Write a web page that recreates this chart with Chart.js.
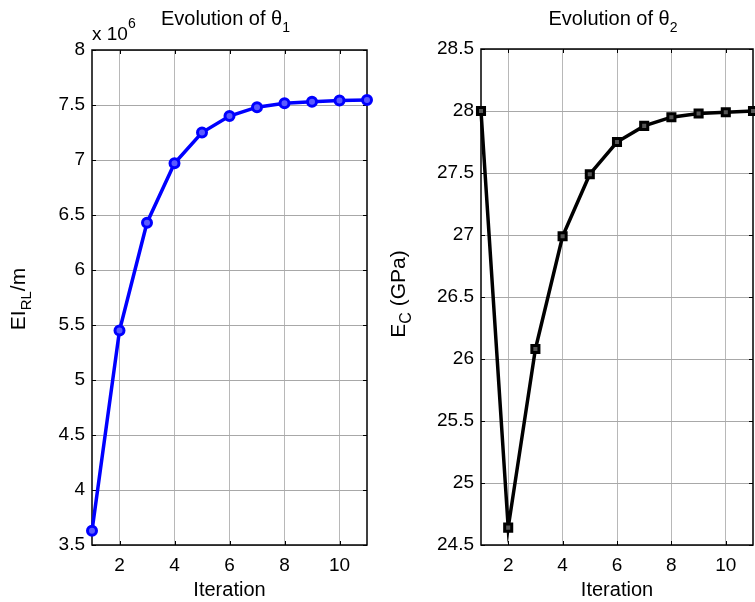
<!DOCTYPE html>
<html><head><meta charset="utf-8">
<script src="https://cdn.jsdelivr.net/npm/chart.js@4"></script>
<style>
html,body{margin:0;padding:0;background:#fff;}
#wrap{position:relative;width:755px;height:602px;overflow:hidden;background:#fff;}
canvas{position:absolute;top:0;}
</style></head><body>
<div id="wrap">
<canvas id="c1" width="380" height="602" style="left:0;width:380px;height:602px"></canvas>
<canvas id="c2" width="375" height="602" style="left:380px;width:375px;height:602px"></canvas>
</div>
<script>
// ---- data ----
const iterations = [1, 2, 3, 4, 5, 6, 7, 8, 9, 10, 11];
const theta1Values = [3.63e6, 5.45e6, 6.43e6, 6.97e6, 7.25e6, 7.40e6, 7.48e6, 7.515e6, 7.53e6, 7.54e6, 7.545e6];
const theta2Values = [28.0, 24.64, 26.08, 26.99, 27.49, 27.75, 27.88, 27.95, 27.98, 27.99, 28.0];
const xTickValues = [2, 4, 6, 8, 10];
const theta1TickLabels = [3.5, 4, 4.5, 5, 5.5, 6, 6.5, 7, 7.5, 8];   // x 10^6
const theta2TickLabels = [24.5, 25, 25.5, 26, 26.5, 27, 27.5, 28, 28.5];

const FONT = "'Liberation Sans', Arial, Helvetica, sans-serif";

function drawRich(ctx, parts, x, y, align) {
  let total = 0;
  parts.forEach(p => { ctx.font = p.size + 'px ' + FONT; p.w = ctx.measureText(p.t).width; total += p.w; });
  let cx = align === 'center' ? x - total / 2 : (align === 'right' ? x - total : x);
  ctx.textAlign = 'left';
  ctx.textBaseline = 'alphabetic';
  parts.forEach(p => {
    ctx.font = p.size + 'px ' + FONT;
    ctx.fillText(p.t, cx, y + (p.dy || 0));
    cx += p.w;
  });
}

function overlay(cfg) {
  return {
    id: 'overlay',
    beforeDatasetsDraw(chart) {
      const ctx = chart.ctx, a = chart.chartArea;
      const xs = chart.scales.x, ys = chart.scales.y;
      ctx.save();
      ctx.strokeStyle = '#000';
      ctx.lineWidth = 1.5;
      ctx.strokeRect(a.left, a.top, a.right - a.left, a.bottom - a.top);
      ctx.lineWidth = 1;
      ctx.beginPath();
      const tl = 4;
      xs.ticks.forEach(t => {
        const px = Math.round(xs.getPixelForValue(t.value)) + 0.5;
        ctx.moveTo(px, a.bottom); ctx.lineTo(px, a.bottom - tl);
        ctx.moveTo(px, a.top); ctx.lineTo(px, a.top + tl);
      });
      ys.ticks.forEach(t => {
        const py = Math.round(ys.getPixelForValue(t.value)) + 0.5;
        ctx.moveTo(a.left, py); ctx.lineTo(a.left + tl, py);
        ctx.moveTo(a.right, py); ctx.lineTo(a.right - tl, py);
      });
      ctx.stroke();
      ctx.restore();
    },
    afterDraw(chart) {
      const ctx = chart.ctx, a = chart.chartArea;
      ctx.save();
      ctx.fillStyle = '#000';
      drawRich(ctx, cfg.title, (a.left + a.right) / 2 - 4, 25, 'center');
      drawRich(ctx, [{ t: 'Iteration', size: 20 }], (a.left + a.right) / 2, 596, 'center');
      if (cfg.multiplier) drawRich(ctx, cfg.multiplier, a.left, 40, 'left');
      ctx.translate(cfg.yLabelX, cfg.yLabelY);
      ctx.rotate(-Math.PI / 2);
      drawRich(ctx, cfg.yLabel, 0, 0, 'center');
      ctx.restore();
    }
  };
}

function makeChart(canvas, cfg) {
  return new Chart(canvas, {
    type: 'line',
    data: {
      datasets: [{
        data: iterations.map((x, i) => ({ x: x, y: cfg.values[i] })),
        borderColor: cfg.color,
        borderWidth: 3.5,
        pointStyle: cfg.pointStyle,
        pointRadius: cfg.radius,
        pointBorderWidth: 3,
        pointBorderColor: cfg.color,
        pointBackgroundColor: cfg.fill,
        tension: 0,
        clip: false
      }]
    },
    options: {
      responsive: false,
      maintainAspectRatio: false,
      animation: false,
      devicePixelRatio: 1,
      events: [],
      layout: { autoPadding: false, padding: { top: cfg.top, right: cfg.right, left: 0, bottom: 0 } },
      plugins: { legend: { display: false }, tooltip: { enabled: false }, title: { display: false } },
      scales: {
        x: {
          type: 'linear', min: 1, max: 11,
          afterBuildTicks: s => { s.ticks = xTickValues.map(v => ({ value: v })); },
          afterFit: s => { s.height = 602 - 545; },
          grid: { color: '#b8b8b8', lineWidth: 1, drawTicks: false },
          border: { display: false },
          ticks: { font: { family: FONT, size: 19 }, color: '#000', padding: 9, maxRotation: 0, autoSkip: false,
                   callback: v => String(v) }
        },
        y: {
          type: 'linear', min: cfg.tickLabels[0] * cfg.mult, max: cfg.tickLabels[cfg.tickLabels.length - 1] * cfg.mult,
          afterBuildTicks: s => { s.ticks = cfg.tickLabels.map(v => ({ value: v * cfg.mult })); },
          afterFit: s => { s.width = cfg.yWidth; },
          grid: { color: '#a8a8a8', lineWidth: 1, drawTicks: false },
          border: { display: false },
          ticks: { font: { family: FONT, size: 19 }, color: '#000', padding: 7, autoSkip: false,
                   callback: v => String(+(v / cfg.mult).toFixed(2)) }
        }
      }
    },
    plugins: [overlay(cfg)]
  });
}

makeChart(document.getElementById('c1'), {
  values: theta1Values, tickLabels: theta1TickLabels, mult: 1e6,
  color: '#0000ff', fill: '#5a5aff', pointStyle: 'circle', radius: 4.5,
  top: 50, right: 13, yWidth: 92,
  title: [{ t: 'Evolution of \u03B8', size: 20 }, { t: '1', size: 14, dy: 7 }],
  multiplier: [{ t: 'x 10', size: 19 }, { t: '6', size: 14, dy: -12 }],
  yLabelX: 25, yLabelY: 299,
  yLabel: [{ t: 'EI', size: 21 }, { t: 'RL', size: 15, dy: 6 }, { t: '/m', size: 21 }]
});

makeChart(document.getElementById('c2'), {
  values: theta2Values, tickLabels: theta2TickLabels, mult: 1,
  color: '#000000', fill: '#555555', pointStyle: 'rect', radius: 5,
  top: 49, right: 2, yWidth: 101,
  title: [{ t: 'Evolution of \u03B8', size: 20 }, { t: '2', size: 14, dy: 7 }],
  multiplier: null,
  yLabelX: 405 - 380, yLabelY: 294,
  yLabel: [{ t: 'E', size: 21 }, { t: 'C', size: 16, dy: 6 }, { t: ' (GPa)', size: 21 }]
});
</script>
</body></html>
